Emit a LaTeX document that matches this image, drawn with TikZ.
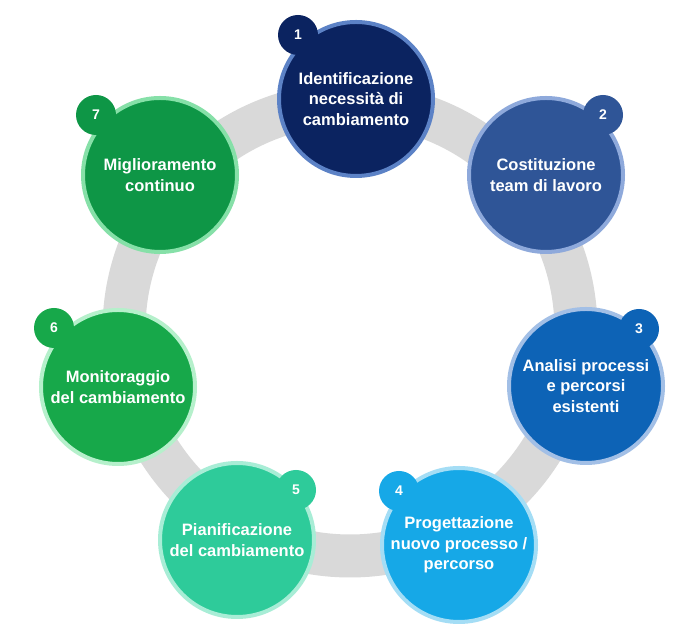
\documentclass[tikz,border=0pt]{standalone}
\usepackage{fontspec}
\setmainfont{Liberation Sans}
\usepackage{xcolor}
\usetikzlibrary{positioning,calc}
\definecolor{ringgrey}{HTML}{D9D9D9}
\definecolor{oneFill}{HTML}{0B2360}
\definecolor{oneLine}{HTML}{5C82C6}
\definecolor{twoFill}{HTML}{2F5597}
\definecolor{twoLine}{HTML}{8EA9DB}
\definecolor{threeFill}{HTML}{0D63B6}
\definecolor{threeLine}{HTML}{A2BFE6}
\definecolor{fourFill}{HTML}{16A8E7}
\definecolor{fourLine}{HTML}{A4DDF5}
\definecolor{fiveFill}{HTML}{2ECB9A}
\definecolor{fiveLine}{HTML}{A8EDD6}
\definecolor{sixFill}{HTML}{17A84A}
\definecolor{sixLine}{HTML}{B5F0CB}
\definecolor{sevenFill}{HTML}{0E9646}
\definecolor{sevenLine}{HTML}{86E0A8}

\tikzset{
  stage/.style={circle, minimum size=154pt, inner sep=0pt, line width=4pt,
    align=center, text=white, font=\bfseries\fontsize{16.5}{20.5}\selectfont},
  badge/.style={circle, minimum size=40pt, inner sep=0pt, text=white,
    font=\bfseries\fontsize{14}{16}\selectfont},
}

\begin{document}
\begin{tikzpicture}[x=1pt, y=1pt]
  \useasboundingbox (0,0) rectangle (696,644);
  \fill[white] (0,0) rectangle (696,644);
  \coordinate (ctr) at (350,314);

  % grey ring behind the stages
  \draw[ringgrey, line width=43pt] (ctr) circle[radius=226];

  \node[stage, fill=oneFill, draw=oneLine] (s1) at (356,545) {Identificazione\\necessità di\\cambiamento};
  \node[stage, fill=twoFill, draw=twoLine] (s2) at (546,469) {Costituzione\\team di lavoro};
  \node[stage, fill=threeFill, draw=threeLine] (s3) at (586,258) {Analisi processi\\e percorsi\\esistenti};
  \node[stage, fill=fourFill, draw=fourLine] (s4) at (459,99) {Progettazione\\nuovo processo /\\percorso};
  \node[stage, fill=fiveFill, draw=fiveLine] (s5) at (237,104) {Pianificazione\\del cambiamento};
  \node[stage, fill=sixFill, draw=sixLine] (s6) at (118,257) {Monitoraggio\\del cambiamento};
  \node[stage, fill=sevenFill, draw=sevenLine] (s7) at (160,469) {Miglioramento\\continuo};

  % number badges
  \node[badge, fill=oneFill] (b1) at (298,609) {1};
  \node[badge, fill=twoFill] (b2) at (603,529) {2};
  \node[badge, fill=threeFill] (b3) at (639,315) {3};
  \node[badge, fill=fourFill] (b4) at (399,153) {4};
  \node[badge, fill=fiveFill] (b5) at (296,154) {5};
  \node[badge, fill=sixFill] (b6) at (54,316) {6};
  \node[badge, fill=sevenFill] (b7) at (96,529) {7};
\end{tikzpicture}
\end{document}
